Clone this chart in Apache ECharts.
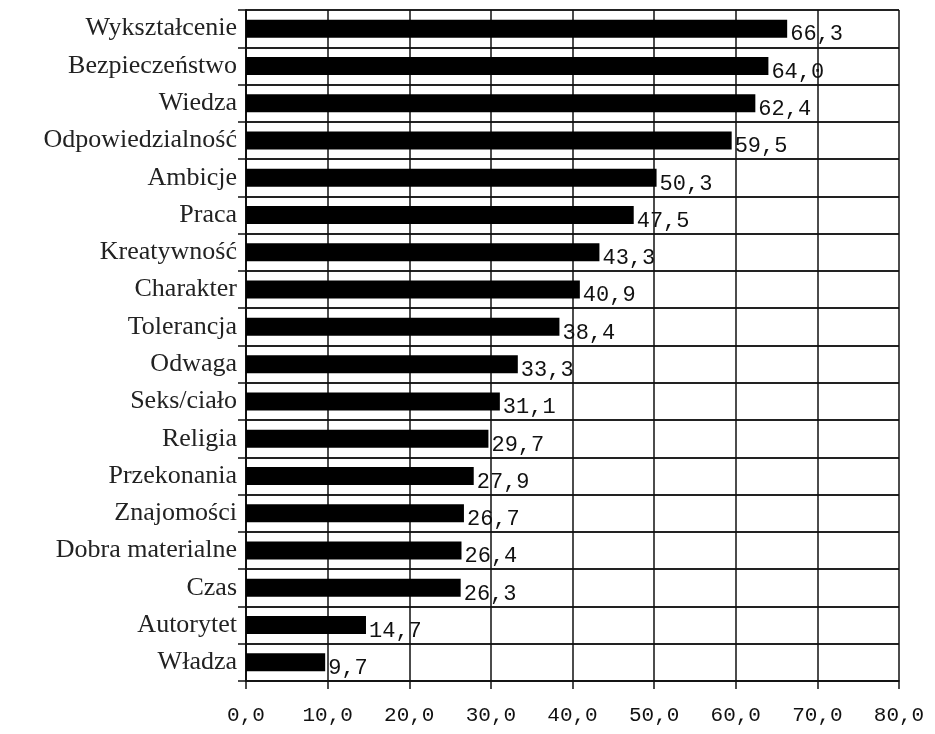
<!DOCTYPE html>
<html><head><meta charset="utf-8">
<script src="https://cdn.jsdelivr.net/npm/echarts@6/dist/echarts.min.js"></script>
<style>html,body{margin:0;padding:0;background:#fff}#c{width:935px;height:734px}</style>
</head><body><div id="c"></div>
<script>
const categories = ["Wykształcenie","Bezpieczeństwo","Wiedza","Odpowiedzialność","Ambicje","Praca","Kreatywność","Charakter","Tolerancja","Odwaga","Seks/ciało","Religia","Przekonania","Znajomości","Dobra materialne","Czas","Autorytet","Władza"];
const values = [66.3,64.0,62.4,59.5,50.3,47.5,43.3,40.9,38.4,33.3,31.1,29.7,27.9,26.7,26.4,26.3,14.7,9.7];
const xMin = 0, xMax = 80, xStep = 10;
const fmt = v => Number(v).toFixed(1).replace('.', ',');
const chart = echarts.init(document.getElementById('c'));
chart.setOption({
  animation: false,
  grid: {left: 246, right: 36, top: 10, bottom: 53, containLabel: false},
  xAxis: {
    type: 'value', min: xMin, max: xMax, interval: xStep,
    axisLine: {show: true, lineStyle: {color: '#111', width: 1.5}},
    axisTick: {show: true, length: 8, lineStyle: {color: '#111', width: 1.5}},
    splitLine: {show: true, lineStyle: {color: '#111', width: 1.5}},
    axisLabel: {formatter: fmt, color: '#111', fontFamily: 'Liberation Mono', fontSize: 21, margin: 24}
  },
  yAxis: {
    type: 'category', data: categories, inverse: true,
    axisLine: {show: true, lineStyle: {color: '#111', width: 2}},
    axisTick: {show: true, length: 8, lineStyle: {color: '#111', width: 1.5}},
    splitLine: {show: true, lineStyle: {color: '#222', width: 1.8}},
    axisLabel: {color: '#222', fontFamily: 'Liberation Serif', fontSize: 26, margin: 9}
  },
  series: [{
    type: 'bar', data: values, barWidth: 18,
    itemStyle: {color: '#000'},
    label: {show: true, position: 'right', distance: 3, offset: [0, 6], formatter: p => fmt(p.value),
      color: '#111', fontFamily: 'Liberation Mono', fontSize: 22}
  }]
});
</script></body></html>
